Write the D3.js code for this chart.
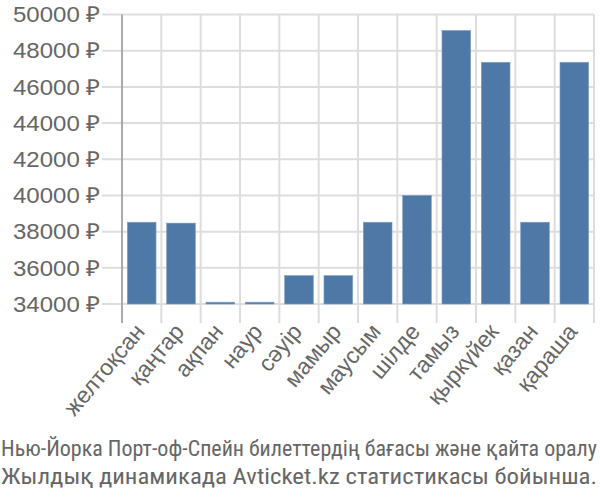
<!DOCTYPE html>
<html><head><meta charset="utf-8">
<script src="https://cdn.jsdelivr.net/npm/d3@7"></script>
<style>body{margin:0;background:#fff}svg{display:block}</style>
</head><body>
<svg id="c" width="600" height="500"></svg>
<script>
const categories = ["желтоқсан","қаңтар","ақпан","наур","сәуір","мамыр","маусым","шілде","тамыз","қыркүйек","қазан","қараша"];
const prices = [38520, 38470, 34100, 34100, 35570, 35570, 38520, 40000, 49120, 47360, 38520, 47360];
const yTicks = [34000, 36000, 38000, 40000, 42000, 44000, 46000, 48000, 50000];
const titleLines = ["Нью-Йорка Порт-оф-Спейн билеттердің бағасы және қайта оралу", "Жылдық динамикада Avticket.kz статистикасы бойынша."];

const svg = d3.select("#c");
const pLeft = 122, pRight = 594, pTop = 14.5, pBottom = 304;
const x = d3.scaleBand().domain(categories).range([pLeft, pRight]).paddingInner(0.27).paddingOuter(0.135);
const xb = d3.scaleBand().domain(categories).range([pLeft, pRight]).padding(0);
const y = d3.scaleLinear().domain([34000, 50000]).range([pBottom, pTop]);
const font = "'Liberation Sans', Arial, sans-serif";
const textCol = "#666";

// horizontal grid
svg.append("g").selectAll("line").data(yTicks).join("line")
  .attr("x1", 102).attr("x2", pRight).attr("y1", d => y(d)).attr("y2", d => y(d))
  .attr("stroke", "#ddd").attr("stroke-width", 2);
// vertical grid
const vx = categories.map(c => xb(c)).slice(1).concat([pRight]);
svg.append("g").selectAll("line").data(vx).join("line")
  .attr("x1", d => d).attr("x2", d => d).attr("y1", pTop).attr("y2", 323)
  .attr("stroke", "#ddd").attr("stroke-width", 2);
// y axis line
svg.append("line").attr("x1", pLeft).attr("x2", pLeft).attr("y1", pTop).attr("y2", 323)
  .attr("stroke", "#aaa").attr("stroke-width", 2);

// bars
svg.append("g").selectAll("rect").data(prices).join("rect")
  .attr("x", (d, i) => x(categories[i]))
  .attr("width", x.bandwidth())
  .attr("y", d => y(d))
  .attr("height", d => y(34000) - y(d))
  .attr("fill", "#4e79a7")
  .attr("stroke", "#7fa0c6").attr("stroke-width", 0.6);

// y labels
svg.append("g").selectAll("text").data(yTicks).join("text")
  .attr("transform", d => `translate(100,${y(d)}) scale(1.093,1)`)
  .attr("dy", "0.35em")
  .attr("text-anchor", "end").attr("font-family", font).attr("font-size", 22)
  .attr("fill", textCol).text(d => d + " ₽");

// x labels
svg.append("g").selectAll("text").data(categories).join("text")
  .attr("transform", c => `translate(${x(c) + x.bandwidth()/2 - 2},${327}) rotate(-50)`)
  .attr("text-anchor", "end").attr("dy", "0.35em")
  .attr("font-family", font).attr("font-size", 23)
  .attr("fill", textCol).text(c => c);

// title
svg.append("g").selectAll("text").data(titleLines).join("text")
  .attr("x", 1).attr("y", (d, i) => 456 + i * 28)
  .attr("textLength", 596).attr("lengthAdjust", "spacingAndGlyphs")
  .attr("font-family", "'Roboto Condensed', 'Liberation Sans', sans-serif")
  .attr("font-size", 22).attr("fill", textCol).text(d => d);
</script>
</body></html>
